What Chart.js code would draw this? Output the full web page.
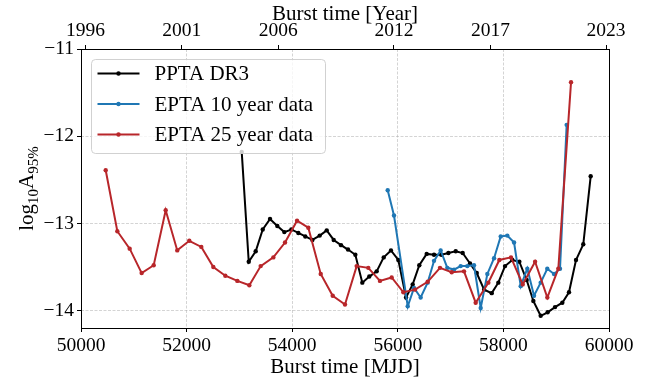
<!DOCTYPE html>
<html>
<head>
<meta charset="utf-8">
<script src="https://cdn.jsdelivr.net/npm/chart.js@4.4.0/dist/chart.umd.min.js"></script>
<style>
  html, body { margin: 0; padding: 0; background: #fff; }
</style>
</head>
<body>
<canvas id="burstChart" width="662" height="383"></canvas>
<script>
// Burst-time upper limits, log10 of the 95% amplitude bound
const pptaMjd = [53044, 53177, 53309, 53442, 53580, 53718, 53851, 53984, 54116, 54248,
                 54382, 54521, 54654, 54786, 54925, 55057, 55196, 55328, 55460, 55600,
                 55733, 55871, 56010, 56156, 56282, 56407, 56547, 56686, 56824, 56958,
                 57097, 57229, 57368, 57495, 57635, 57779, 57904, 58031, 58169, 58302,
                 58441, 58567, 58706, 58838, 58978, 59116, 59242, 59375, 59513, 59653];
const pptaLogA = [-12.18, -13.44, -13.32, -13.07, -12.95, -13.03, -13.10, -13.07, -13.11, -13.15,
                  -13.19, -13.14, -13.08, -13.19, -13.25, -13.30, -13.36, -13.68, -13.61, -13.55,
                  -13.39, -13.31, -13.42, -13.85, -13.70, -13.48, -13.35, -13.36, -13.36, -13.34,
                  -13.32, -13.34, -13.46, -13.57, -13.76, -13.80, -13.68, -13.49, -13.42, -13.44,
                  -13.65, -13.89, -14.06, -14.02, -13.96, -13.91, -13.79, -13.42, -13.24, -12.46];

const epta10Mjd = [55809, 55928, 56188, 56307, 56433, 56565, 56686, 56812, 56938, 57065,
                   57191, 57316, 57443, 57570, 57696, 57823, 57949, 58074, 58202, 58328,
                   58453, 58580, 58706, 58831, 58959, 59072, 59198];
const epta10LogA = [-12.62, -12.91, -13.95, -13.74, -13.85, -13.68, -13.43, -13.31, -13.51, -13.53,
                    -13.49, -13.49, -13.48, -13.97, -13.58, -13.40, -13.15, -13.14, -13.22, -13.72,
                    -13.52, -13.83, -13.68, -13.52, -13.58, -13.52, -11.87];

const epta25Mjd = [50468, 50688, 50922, 51149, 51377, 51604, 51823, 52051, 52279, 52506,
                   52733, 52961, 53188, 53403, 53643, 53864, 54092, 54305, 54540, 54767,
                   55000, 55221, 55441, 55662, 55884, 56105, 56326, 56566, 56799, 57021,
                   57254, 57475, 57715, 57923, 58144, 58366, 58600, 58832, 59040, 59281];
const epta25LogA = [-12.39, -13.09, -13.29, -13.57, -13.48, -12.85, -13.31, -13.20, -13.27, -13.50,
                    -13.60, -13.66, -13.71, -13.49, -13.39, -13.22, -12.97, -13.05, -13.58, -13.83,
                    -13.93, -13.49, -13.51, -13.66, -13.62, -13.79, -13.76, -13.67, -13.51, -13.56,
                    -13.55, -13.91, -13.68, -13.42, -13.39, -13.70, -13.44, -13.85, -13.52, -11.38];

const mjdTicks = [50000, 52000, 54000, 56000, 58000, 60000];
const yearTicks = [1996, 2001, 2006, 2012, 2017, 2023];
const logATicks = [-14, -13, -12, -11];

const SERIF = "'Liberation Serif', 'DejaVu Serif', serif";

// decimal year -> MJD, J2000.0 = MJD 51544.5
function yearToMjd(yr) {
    return 51544.5 + (yr - 2000) * 365.25;
}

function toPoints(xs, ys) {
    return xs.map((x, i) => ({x: x, y: ys[i]}));
}

function fmtMinus(v) {
    return v < 0 ? '\u2212' + Math.abs(v) : String(v);
}

const series = [
    {label: 'PPTA DR3', color: '#000000', xs: pptaMjd, ys: pptaLogA},
    {label: 'EPTA 10 year data', color: '#1f77b4', xs: epta10Mjd, ys: epta10LogA},
    {label: 'EPTA 25 year data', color: '#b8262a', xs: epta25Mjd, ys: epta25LogA}
];

// black box around the axes
const framePlugin = {
    id: 'frame',
    afterDatasetsDraw(chart) {
        const a = chart.chartArea, ctx = chart.ctx;
        ctx.save();
        ctx.strokeStyle = '#000';
        ctx.lineWidth = 1;
        ctx.strokeRect(Math.round(a.left) + 0.5, Math.round(a.top) + 0.5,
                       Math.round(a.right - a.left), Math.round(a.bottom - a.top));
        ctx.restore();
    }
};

// matplotlib-style legend sitting in the upper left of the axes
const boxLegend = {
    id: 'boxLegend',
    afterDraw(chart) {
        const a = chart.chartArea, ctx = chart.ctx;
        const x0 = a.left + 10.5, y0 = a.top + 10.5, w = 234, h = 94;
        ctx.save();
        ctx.beginPath();
        ctx.roundRect(x0, y0, w, h, 4);
        ctx.fillStyle = 'rgba(255,255,255,0.8)';
        ctx.fill();
        ctx.strokeStyle = 'rgba(204,204,204,0.9)';
        ctx.lineWidth = 1;
        ctx.stroke();
        ctx.font = '21px ' + SERIF;
        ctx.textBaseline = 'middle';
        series.forEach((s, i) => {
            const yy = y0 + 14 + i * 30.5;
            ctx.strokeStyle = s.color;
            ctx.lineWidth = 2;
            ctx.beginPath();
            ctx.moveTo(x0 + 6, yy);
            ctx.lineTo(x0 + 48, yy);
            ctx.stroke();
            ctx.fillStyle = s.color;
            ctx.beginPath();
            ctx.arc(x0 + 27, yy, 2.2, 0, Math.PI * 2);
            ctx.fill();
            ctx.fillStyle = '#000';
            ctx.fillText(s.label, x0 + 63, yy + 1);
        });
        ctx.restore();
    }
};

// y title with subscripts: log10 A 95%
const yTitle = {
    id: 'yTitle',
    afterDraw(chart) {
        const a = chart.chartArea, ctx = chart.ctx;
        const parts = [
            {t: 'log', size: 21, dy: 0},
            {t: '10', size: 15, dy: 5},
            {t: 'A', size: 21, dy: 0},
            {t: '95%', size: 15, dy: 5}
        ];
        ctx.save();
        ctx.translate(26, (a.top + a.bottom) / 2);
        ctx.rotate(-Math.PI / 2);
        ctx.fillStyle = '#000';
        ctx.textBaseline = 'alphabetic';
        let total = 0;
        parts.forEach(p => {
            ctx.font = p.size + 'px ' + SERIF;
            p.w = ctx.measureText(p.t).width;
            total += p.w;
        });
        let x = -total / 2;
        parts.forEach(p => {
            ctx.font = p.size + 'px ' + SERIF;
            ctx.fillText(p.t, x, 7 + p.dy);
            x += p.w;
        });
        ctx.restore();
    }
};

const gridColor = 'rgba(165,165,165,0.6)';

new Chart(document.getElementById('burstChart'), {
    type: 'line',
    data: {
        datasets: series.map((s, i) => ({
            label: s.label,
            data: toPoints(s.xs, s.ys),
            borderColor: s.color,
            backgroundColor: s.color,
            borderWidth: 2,
            pointRadius: 2.2,
            pointHoverRadius: 2.2,
            pointBorderWidth: 0,
            tension: 0,
            order: 3 - i
        }))
    },
    options: {
        responsive: false,
        devicePixelRatio: 1,
        animation: false,
        events: [],
        layout: {padding: {left: 0, right: 53, top: 0, bottom: 0}},
        plugins: {legend: {display: false}, tooltip: {enabled: false}},
        scales: {
            x: {
                type: 'linear',
                position: 'bottom',
                min: 50000,
                max: 60000,
                afterBuildTicks: s => { s.ticks = mjdTicks.map(v => ({value: v})); },
                afterFit: s => { s.height = 55; },
                ticks: {
                    color: '#000',
                    font: {family: SERIF, size: 19.5},
                    padding: 2,
                    maxRotation: 0,
                    autoSkip: false,
                    callback: v => String(v)
                },
                grid: {color: gridColor, lineWidth: 0.8, tickColor: '#000', tickWidth: 1,
                       tickLength: 4, tickBorderDash: []},
                border: {display: false, dash: [3, 1.5]},
                title: {
                    display: true,
                    text: 'Burst time [MJD]',
                    color: '#000',
                    font: {family: SERIF, size: 21},
                    padding: {top: 0, bottom: 3}
                }
            },
            xYear: {
                type: 'linear',
                position: 'top',
                min: 50000,
                max: 60000,
                afterBuildTicks: s => { s.ticks = yearTicks.map(y => ({value: yearToMjd(y)})); },
                afterFit: s => { s.height = 49; },
                ticks: {
                    color: '#000',
                    font: {family: SERIF, size: 19.5},
                    padding: 2,
                    maxRotation: 0,
                    autoSkip: false,
                    callback: (v, i) => String(yearTicks[i])
                },
                grid: {drawOnChartArea: false, tickColor: '#000', tickLength: 4},
                border: {display: false},
                title: {
                    display: true,
                    text: 'Burst time [Year]',
                    color: '#000',
                    font: {family: SERIF, size: 21},
                    padding: {top: 1.5, bottom: 0}
                }
            },
            y: {
                type: 'linear',
                min: -14.2,
                max: -11,
                afterBuildTicks: s => { s.ticks = logATicks.map(v => ({value: v})); },
                afterFit: s => { s.width = 81; },
                ticks: {
                    color: '#000',
                    font: {family: SERIF, size: 19.5},
                    padding: 3,
                    callback: v => fmtMinus(v)
                },
                grid: {color: gridColor, lineWidth: 0.8, tickColor: '#000', tickWidth: 1,
                       tickLength: 4, tickBorderDash: []},
                border: {display: false, dash: [3, 1.5]}
            }
        }
    },
    plugins: [framePlugin, boxLegend, yTitle]
});
</script>
</body>
</html>
